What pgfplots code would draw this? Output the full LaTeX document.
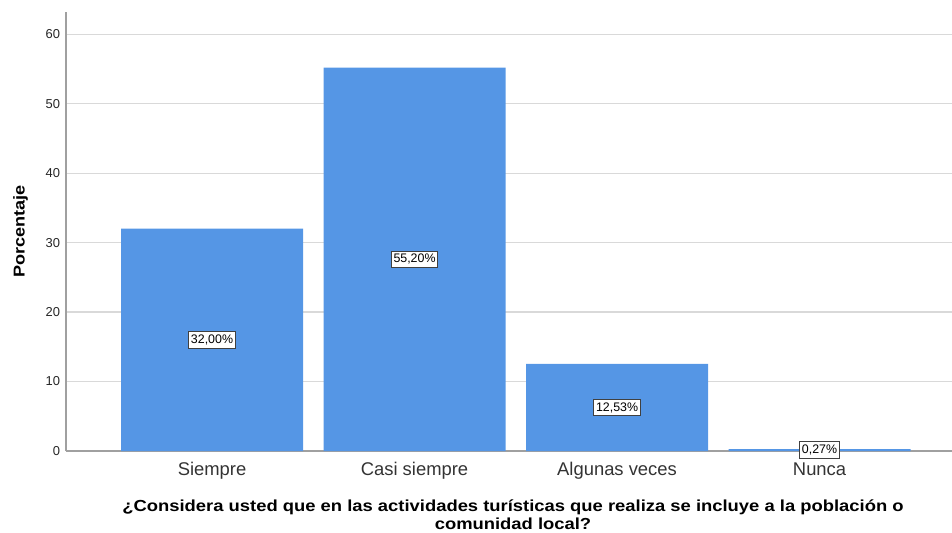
\documentclass[border=0pt]{standalone}
\usepackage{pgfplots}
\pgfplotsset{compat=1.18}
\usepackage{fontspec}
\setmainfont{Liberation Sans}
\newfontfamily\widefont{Liberation Sans}[FakeStretch=1.15]
\definecolor{barblue}{RGB}{85,150,229}
\definecolor{gridgray}{RGB}{217,217,217}
\definecolor{axgray}{RGB}{160,160,160}
\begin{document}
\begin{tikzpicture}
\begin{axis}[
  scale only axis,
  width=664.5pt, height=329.25pt,
  xmin=-0.721, xmax=3.654,
  ymin=0, ymax=63.2,
  axis lines*=left,
  axis line style={axgray, line width=1.2pt},
  axis x line*=bottom,
  x axis line style={-,axgray,line width=1.1pt},
  y axis line style={-,axgray,line width=1.5pt},
  ymajorgrids, grid style={gridgray, line width=0.9pt},
  ytick={0,10,20,30,40,50,60},
  major tick length=0pt,
  xtick={0,1,2,3},
  xticklabels={Siempre, Casi siempre, Algunas veces, Nunca},
  xticklabel style={font=\fontsize{13.8}{15}\selectfont, text=black!80, yshift=-5pt},
  yticklabel style={font=\fontsize{9.7}{11}\selectfont, text=black!85, xshift=-1pt},
  /pgf/number format/assume math mode=true,
  ylabel={\textbf{Porcentaje}},
  every axis y label/.style={at={(axis description cs:-0.0514,0.5)}, rotate=90, anchor=center,
    font=\widefont\fontsize{11.8}{13}\selectfont},
  xlabel={\textbf{¿Considera usted que en las actividades turísticas que realiza se incluye a la población o}\\\textbf{comunidad local?}},
  xlabel style={font=\widefont\fontsize{12}{13}\selectfont, align=center, yshift=-8.5pt, xshift=3pt},
  clip=false,
]
\addplot[ybar, bar width=136.5pt, bar shift=0pt, fill=barblue, draw=none]
  coordinates {(0,32.00) (1,55.20) (2,12.53) (3,0.27)};
\addplot[draw=none, mark=none, nodes near coords, point meta=explicit symbolic,
  every node near coord/.style={anchor=center, fill=white, draw=black!75, line width=0.6pt,
    text=black, inner xsep=1.6pt, inner ysep=2.4pt, font=\fontsize{9.3}{10}\selectfont}]
  coordinates {(0,16.00) [32,00\%] (1,27.60) [55,20\%] (2,6.265) [12,53\%] (3,0.135) [0,27\%]};
\end{axis}
\pgfresetboundingbox
\path[use as bounding box] ([shift={(-49.5pt,-60.75pt)}]current axis.south west) rectangle ([shift={(0pt,9pt)}]current axis.north east);
\end{tikzpicture}
\end{document}
